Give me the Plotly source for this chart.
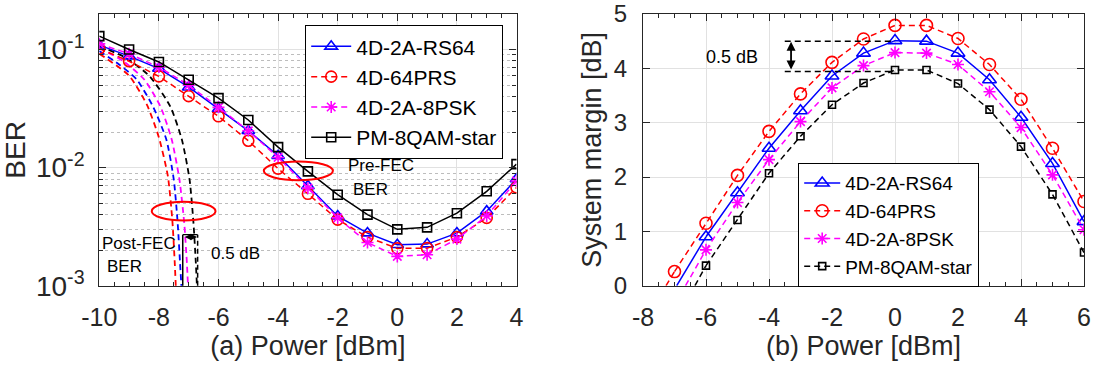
import numpy as np
import plotly.graph_objects as go

# ---------------- data: panel (a) BER vs power ----------------
power_a = [-10, -9, -8, -7, -6, -5, -4, -3, -2, -1, 0, 1, 2, 3, 4]
ber_rs64 = [0.109, 0.088, 0.069, 0.048, 0.0314, 0.0205, 0.0126, 0.0070, 0.00388, 0.00279, 0.00222, 0.00225, 0.00279, 0.00428, 0.0080]
ber_64prs = [0.102, 0.0796, 0.0593, 0.0403, 0.0272, 0.0169, 0.0098, 0.0060, 0.00363, 0.00258, 0.00207, 0.00208, 0.00258, 0.00375, 0.0068]
ber_8psk = [0.112, 0.092, 0.071, 0.050, 0.0324, 0.0205, 0.0122, 0.0067, 0.00375, 0.00232, 0.00177, 0.00183, 0.00248, 0.0039, 0.0077]
ber_8qam = [0.130, 0.100, 0.0785, 0.0555, 0.0388, 0.0253, 0.0149, 0.0093, 0.0059, 0.0040, 0.0030, 0.00312, 0.00411, 0.0063, 0.0107]

# post-FEC BER curves (dashed, no markers)
post_64prs_x = [-10, -9.0, -8.4, -8.0, -7.7, -7.55, -7.47, -7.43]
post_64prs_y = [0.092, 0.060, 0.034, 0.018, 0.0085, 0.0036, 0.0016, 0.00095]
post_rs64_x = [-10, -9.4, -8.75, -8.2, -7.75, -7.5, -7.37, -7.29, -7.24]
post_rs64_y = [0.097, 0.077, 0.056, 0.033, 0.0173, 0.0079, 0.0034, 0.00155, 0.00095]
post_8psk_x = [-10, -9.2, -8.5, -7.95, -7.57, -7.31, -7.15, -7.06, -7.02]
post_8psk_y = [0.103, 0.080, 0.056, 0.033, 0.0173, 0.0079, 0.0034, 0.00155, 0.00095]
post_8qam_x = [-10, -9.1, -8.3, -7.62, -7.23, -6.97, -6.84, -6.76, -6.72]
post_8qam_y = [0.107, 0.085, 0.059, 0.033, 0.0173, 0.0079, 0.0034, 0.00155, 0.00095]

# ---------------- data: panel (b) system margin vs power ----------------
power_b_64prs = [-7, -6, -5, -4, -3, -2, -1, 0, 1, 2, 3, 4, 5, 6]
margin_64prs = [0.26, 1.15, 2.03, 2.84, 3.53, 4.11, 4.54, 4.79, 4.79, 4.55, 4.07, 3.43, 2.53, 1.55]
power_b = [-6, -5, -4, -3, -2, -1, 0, 1, 2, 3, 4, 5, 6]
margin_rs64 = [0.90, 1.71, 2.53, 3.22, 3.86, 4.28, 4.51, 4.50, 4.28, 3.79, 3.10, 2.25, 1.18]
margin_8psk = [0.66, 1.53, 2.32, 3.02, 3.64, 4.05, 4.29, 4.28, 4.07, 3.57, 2.91, 2.04, 1.03]
margin_8qam = [0.37, 1.21, 2.07, 2.75, 3.33, 3.73, 3.97, 3.97, 3.72, 3.24, 2.56, 1.68, 0.61]
# power where each margin curve crosses 0 dB
zero_cross = {"4D-2A-RS64": -6.93, "4D-64PRS": -7.27, "4D-2A-8PSK": -6.65, "PM-8QAM-star": -6.35}

names = ["4D-2A-RS64", "4D-64PRS", "4D-2A-8PSK", "PM-8QAM-star"]

# ---------------- styling ----------------
FONT = "Arial, Liberation Sans, sans-serif"
TXT = "#262626"
BLUE, RED, MAG, BLK = "#0000ff", "#ff0000", "#ff00ff", "#000000"
DASH = "6px,4px"

style_a = {
    "4D-2A-RS64": dict(color=BLUE, dash="solid", symbol="triangle-up-open", size=11),
    "4D-64PRS": dict(color=RED, dash=DASH, symbol="circle-open", size=11),
    "4D-2A-8PSK": dict(color=MAG, dash=DASH, symbol="asterisk-open", size=10),
    "PM-8QAM-star": dict(color=BLK, dash="solid", symbol="square-open", size=9),
}
style_b = {
    "4D-2A-RS64": dict(color=BLUE, dash="solid", symbol="triangle-up-open", size=12),
    "4D-64PRS": dict(color=RED, dash=DASH, symbol="circle-open", size=12),
    "4D-2A-8PSK": dict(color=MAG, dash=DASH, symbol="asterisk-open", size=10),
    "PM-8QAM-star": dict(color=BLK, dash=DASH, symbol="square-open", size=7),
}

fig = go.Figure()

# panel (a) post-FEC curves
for nm, xs, ys in [("4D-64PRS", post_64prs_x, post_64prs_y),
                   ("4D-2A-RS64", post_rs64_x, post_rs64_y),
                   ("4D-2A-8PSK", post_8psk_x, post_8psk_y),
                   ("PM-8QAM-star", post_8qam_x, post_8qam_y)]:
    fig.add_trace(go.Scatter(x=xs, y=ys, mode="lines", xaxis="x", yaxis="y",
                             line=dict(color=style_a[nm]["color"], width=1.8, dash=DASH, shape="spline", smoothing=0.6),
                             showlegend=False, hoverinfo="skip"))

# panel (a) pre-FEC curves
for nm, ys in zip(names, [ber_rs64, ber_64prs, ber_8psk, ber_8qam]):
    s = style_a[nm]
    fig.add_trace(go.Scatter(x=power_a, y=ys, mode="lines+markers", name=nm, xaxis="x", yaxis="y",
                             line=dict(color=s["color"], width=1.5, dash=s["dash"]),
                             marker=dict(symbol=s["symbol"], size=s["size"], color=s["color"],
                                         line=dict(color=s["color"], width=1.6)),
                             legend="legend"))

# panel (b)
for nm, xs, ys in [("4D-2A-RS64", power_b, margin_rs64), ("4D-64PRS", power_b_64prs, margin_64prs),
                   ("4D-2A-8PSK", power_b, margin_8psk), ("PM-8QAM-star", power_b, margin_8qam)]:
    s = style_b[nm]
    # tail segment from the 0 dB crossing to the first measured point
    fig.add_trace(go.Scatter(x=[zero_cross[nm], xs[0]], y=[0, ys[0]], mode="lines", xaxis="x2", yaxis="y2",
                             line=dict(color=s["color"], width=1.5, dash=s["dash"]),
                             showlegend=False, hoverinfo="skip"))
    fig.add_trace(go.Scatter(x=xs, y=ys, mode="lines+markers", name=nm, xaxis="x2", yaxis="y2",
                             line=dict(color=s["color"], width=1.5, dash=s["dash"]),
                             marker=dict(symbol=s["symbol"], size=s["size"], color=s["color"],
                                         line=dict(color=s["color"], width=1.6)),
                             legend="legend2"))

# ---------------- axes ----------------
W, H = 1094, 367
ydom = [1 - 285.7 / H, 1 - 14 / H]
YMIN, YMAX = -3, np.log10(0.2)

common = dict(showline=True, linecolor=TXT, linewidth=1.3, mirror="allticks", ticks="inside",
              ticklen=7, tickwidth=1.2, tickcolor=TXT, zeroline=False, automargin=False,
              showgrid=True, gridcolor="#e1e1e1", gridwidth=1)

minor_y_vals = [k * 10.0 ** e for e in (-3, -2, -1) for k in range(2, 10) if k * 10.0 ** e < 0.2]


def tfont(sz):
    return dict(family=FONT, size=sz, color=TXT)


fig.update_layout(
    width=W, height=H, margin=dict(l=0, r=0, t=0, b=0),
    paper_bgcolor="white", plot_bgcolor="white",
    font=dict(family=FONT, color=TXT),
    xaxis=dict(common, domain=[99.3 / W, 516.5 / W], range=[-10, 4], anchor="y",
               tickmode="array", tickvals=[-10, -8, -6, -4, -2, 0, 2, 4],
               ticktext=["-10", "-8", "-6", "-4", "-2", "0", "2", "4"],
               minor=dict(dtick=0.5, tick0=0, ticks="inside", ticklen=4, tickcolor=TXT, showgrid=False),
               ticklabelstandoff=9, tickfont=tfont(25),
               title=dict(text="(a) Power [dBm]", standoff=4, font=tfont(27))),
    yaxis=dict(common, domain=ydom, type="log", range=[YMIN, YMAX], anchor="x",
               tickmode="array", tickvals=[0.001, 0.01, 0.1],
               ticktext=["10<sup>-3</sup>", "10<sup>-2</sup>", "10<sup>-1</sup>"],
               minor=dict(tickmode="array", tickvals=minor_y_vals, ticks="inside", ticklen=4,
                          tickcolor=TXT, showgrid=True, gridcolor="#bdbdbd", griddash="dot", gridwidth=1),
               ticklabelstandoff=8, tickfont=tfont(28),
               title=dict(text="BER", standoff=8, font=tfont(28))),
    xaxis2=dict(common, domain=[643 / W, 1084 / W], range=[-8, 6], anchor="y2",
                tickmode="array", tickvals=[-8, -6, -4, -2, 0, 2, 4, 6],
                ticktext=["-8", "-6", "-4", "-2", "0", "2", "4", "6"],
                minor=dict(dtick=0.5, tick0=0, ticks="inside", ticklen=4, tickcolor=TXT, showgrid=False),
                ticklabelstandoff=9, tickfont=tfont(25),
                title=dict(text="(b) Power [dBm]", standoff=4, font=tfont(27))),
    yaxis2=dict(common, domain=ydom, range=[0, 5], anchor="x2",
                tickmode="array", tickvals=[0, 1, 2, 3, 4, 5],
                ticktext=["0", "1", "2", "3", "4", "5"],
                ticklabelstandoff=10, tickfont=tfont(24),
                title=dict(text="System margin [dB]", standoff=4, font=tfont(27))),
    legend=dict(x=305 / W, y=1 - 25 / H, xanchor="left", yanchor="top",
                bgcolor="white", bordercolor=BLK, borderwidth=1.2,
                font=dict(family=FONT, size=21, color=BLK), itemwidth=40,
                tracegroupgap=0),
    legend2=dict(x=798 / W, y=1 - 163 / H, xanchor="left", yanchor="top",
                 bgcolor="white", bordercolor=BLK, borderwidth=1.2,
                 font=dict(family=FONT, size=19, color=BLK), itemwidth=36,
                 tracegroupgap=0),
)


def yfrac(v):
    return (np.log10(v) - YMIN) / (YMAX - YMIN)


shapes = []
# ellipses (pre-FEC, post-FEC markers)
shapes.append(dict(type="circle", xref="x", yref="y domain", x0=-4.48, x1=-2.16,
                   y0=yfrac(10 ** -2.107), y1=yfrac(10 ** -1.948), line=dict(color=RED, width=2)))
shapes.append(dict(type="circle", xref="x", yref="y domain", x0=-8.24, x1=-6.10,
                   y0=yfrac(10 ** -2.448), y1=yfrac(10 ** -2.289), line=dict(color=RED, width=2)))
# 0.5 dB bracket in panel (a)
top_a = yfrac(10 ** -2.568)
shapes.append(dict(type="line", xref="x", yref="y domain", x0=-7.20, x1=-7.20, y0=0, y1=top_a,
                   line=dict(color=BLK, width=1.5)))
shapes.append(dict(type="line", xref="x", yref="y domain", x0=-6.70, x1=-6.70, y0=0, y1=top_a,
                   line=dict(color=BLK, width=1.5, dash="5px,3px")))
shapes.append(dict(type="line", xref="x", yref="y domain", x0=-7.20, x1=-6.70, y0=top_a, y1=top_a,
                   line=dict(color=BLK, width=1.2)))
# 0.5 dB guides in panel (b)
shapes.append(dict(type="line", xref="x2", yref="y2", x0=-3.5, x1=0, y0=4.5, y1=4.5,
                   line=dict(color=BLK, width=1.5, dash="6px,4px")))
shapes.append(dict(type="line", xref="x2", yref="y2", x0=-3.5, x1=0, y0=3.94, y1=3.94,
                   line=dict(color=BLK, width=1.5, dash="6px,4px")))
fig.update_layout(shapes=shapes)

ann_font = dict(family=FONT, size=17, color=BLK)
annotations = [
    dict(x=-1.72, y=-1.986, xref="x", yref="y", text="Pre-FEC", showarrow=False, xanchor="left", font=ann_font),
    dict(x=-1.55, y=-2.184, xref="x", yref="y", text="BER", showarrow=False, xanchor="left", font=ann_font),
    dict(x=-9.99, y=-2.639, xref="x", yref="y", text="Post-FEC", showarrow=False, xanchor="left", font=ann_font),
    dict(x=-9.82, y=-2.838, xref="x", yref="y", text="BER", showarrow=False, xanchor="left", font=ann_font),
    dict(x=-6.32, y=-2.724, xref="x", yref="y", text="0.5 dB", showarrow=False, xanchor="left", font=ann_font),
    # double arrow in panel (a)
    dict(x=-6.72, y=-2.588, ax=-7.18, ay=-2.588, xref="x", yref="y", axref="x", ayref="y",
         text="", showarrow=True, arrowhead=2, arrowside="end+start", arrowsize=1, arrowwidth=1.3, arrowcolor=BLK),
    # panel (b)
    dict(x=-5.16, y=4.21, xref="x2", yref="y2", text="0.5 dB", showarrow=False,
         font=dict(family=FONT, size=18, color=BLK)),
    dict(x=-3.3, y=4.49, ax=-3.3, ay=3.95, xref="x2", yref="y2", axref="x2", ayref="y2",
         text="", showarrow=True, arrowhead=2, arrowside="end+start", arrowsize=1, arrowwidth=1.8, arrowcolor=BLK),
]
fig.update_layout(annotations=annotations)

fig.write_html("out.html", config={"displayModeBar": False},
               post_script="document.body.style.margin='0';document.body.style.overflow='hidden';")
